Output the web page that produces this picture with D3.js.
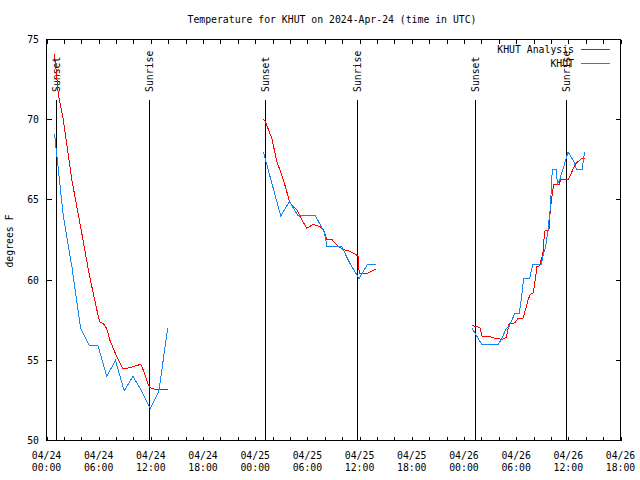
<!DOCTYPE html>
<html><head><meta charset="utf-8">
<script src="https://cdn.jsdelivr.net/npm/d3@7"></script>
<style>
body{margin:0;background:#fff;}
text{font-family:"DejaVu Sans Mono","Liberation Mono",monospace;font-size:9.8px;fill:#000;}
</style></head>
<body><svg id="c" width="640" height="480"></svg>
<script>
// hours since 2024-04-24 00:00 UTC
const analysisHours1 = [0.93,1.36,1.93,2.93,3.93,4.93,5.93,6.14,6.52,6.91,7.29,7.86,8.75,9.21,9.97,10.82,11.05,11.69,11.88,12.46,13.99];
const analysisTemps1 = [74.1,71.6,70.0,66.2,63.3,60.3,57.8,57.4,57.3,57.0,56.25,55.5,54.5,54.5,54.6,54.75,54.5,53.5,53.3,53.2,53.2];
const analysisHours2 = [24.94,25.14,25.9,26.48,27.24,28.0,28.78,29.15,29.92,30.68,31.45,31.91,32.22,32.79,33.55,34.12,34.89,35.66,35.85,35.96,36.81,37.96];
const analysisTemps2 = [70.04,69.9,68.86,67.4,66.25,64.8,64.4,63.96,63.23,63.48,63.33,63.08,62.54,62.54,62.1,61.9,61.8,61.56,61.46,60.4,60.4,60.7];
const analysisHours3 = [48.93,49.24,49.82,50.08,50.96,51.23,51.73,52.42,52.88,53.18,53.83,54.21,54.79,55.06,55.36,55.64,55.93,56.13,56.39,56.7,57.08,57.28,57.77,57.93,58.16,58.31,58.92,59.11,59.77,60.03,60.53,60.92,61.49,61.87];
const analysisTemps3 = [57.19,57.13,57.04,56.5,56.5,56.42,56.36,56.31,56.42,57.29,57.33,57.6,57.64,58.13,58.75,59.13,59.17,59.75,60.83,60.9,61.67,63.06,63.13,64.4,65.4,65.94,65.94,66.25,66.3,66.3,66.9,67.3,67.56,67.6];

const obsHours1 = [0.93,1.93,2.93,3.93,4.93,5.93,6.93,7.93,8.93,9.93,10.93,11.93,12.93,13.93];
const obsTemps1 = [69.1,64.0,60.8,57.0,55.9,55.9,54.0,55.0,53.1,54.0,53.1,52.0,53.1,57.0];
const obsHours2 = [24.93,25.93,26.93,27.93,28.93,29.93,30.93,31.93,32.25,33.93,34.93,35.93,36.93,37.93];
const obsTemps2 = [68.0,66.0,64.0,64.9,64.0,64.0,64.0,63.0,62.1,62.1,61.0,60.1,61.0,61.0];
const obsHours3 = [48.93,50.03,51.93,52.3,52.88,53.18,53.83,54.33,54.52,54.87,55.55,55.93,56.9,57.08,57.4,57.66,57.93,58.16,58.62,58.74,59.0,59.77,59.96,60.72,60.92,61.6,61.76,61.87];
const obsTemps3 = [57.0,56.0,56.0,56.3,57.0,57.1,57.9,57.9,58.5,60.1,60.1,61.0,61.0,61.5,62.1,63.1,64.5,66.9,66.9,66.0,66.25,67.6,68.0,67.3,66.9,66.9,67.6,68.0];

const sunHours = [1.15,11.84,25.17,35.75,49.31,59.77];
const sunLabels = ["Sunset","Sunrise","Sunset","Sunrise","Sunset","Sunrise"];
const yTicks = [50,55,60,65,70,75];
const seriesNames = ["KHUT Analysis","KHUT"];
const seriesColors = ["#ff0000","#1584f4"];
const titleText = "Temperature for KHUT on 2024-Apr-24 (time in UTC)";
const yLabel = "degrees F";

const base = Date.UTC(2024,3,24);
const hr = h => new Date(base + h*3600e3);

const L=46.5, R=620.5, T=39.5, B=440.5;
const x = d3.scaleUtc().domain([hr(0), hr(66)]).range([L,R]);
const y = d3.scaleLinear().domain([50,75]).range([B,T]);

const svg = d3.select("#c");
svg.append("rect").attr("width",640).attr("height",480).attr("fill","#fff");

// ticks
const minor = d3.range(0,67,2).map(hr);
const g = svg.append("g").attr("shape-rendering","crispEdges").attr("stroke","#000");
g.selectAll(".tb").data(minor).join("line").attr("x1",d=>Math.round(x(d))+0.5).attr("x2",d=>Math.round(x(d))+0.5).attr("y1",B).attr("y2",B-4);
g.selectAll(".tt").data(minor).join("line").attr("x1",d=>Math.round(x(d))+0.5).attr("x2",d=>Math.round(x(d))+0.5).attr("y1",T).attr("y2",T+4);
g.selectAll(".yl").data(yTicks).join("line").attr("x1",L).attr("x2",L+5).attr("y1",d=>Math.round(y(d)-0.5)+0.5).attr("y2",d=>Math.round(y(d)-0.5)+0.5);
g.selectAll(".yr").data(yTicks).join("line").attr("x1",R).attr("x2",R-5).attr("y1",d=>Math.round(y(d)-0.5)+0.5).attr("y2",d=>Math.round(y(d)-0.5)+0.5);

// x labels
const major = d3.range(0,67,6).map(hr);
const fmtD = d3.utcFormat("%m/%d"), fmtT = d3.utcFormat("%H:%M");
const xl = svg.selectAll(".xl").data(major).join("text").attr("text-anchor","middle");
xl.append("tspan").attr("x",d=>x(d)).attr("y",458.5).text(fmtD);
xl.append("tspan").attr("x",d=>x(d)).attr("y",470.5).text(fmtT);

// y labels
svg.selectAll(".ylab").data(yTicks).join("text").attr("text-anchor","end")
  .attr("x",39).attr("y",d=>y(d)+3.5).text(d=>d);

svg.append("text").attr("transform","translate(13,241) rotate(-90)").attr("text-anchor","middle").text(yLabel);
svg.append("text").attr("x",332).attr("y",23).attr("text-anchor","middle").text(titleText);

// sun lines
svg.selectAll(".sun").data(sunHours).join("line").attr("shape-rendering","crispEdges")
  .attr("x1",d=>Math.floor(x(hr(d)))+0.5).attr("x2",d=>Math.floor(x(hr(d)))+0.5)
  .attr("y1",100).attr("y2",B).attr("stroke","#000");
svg.selectAll(".sunt").data(sunHours).join("text")
  .attr("transform",d=>`translate(${Math.floor(x(hr(d)))+0.5},92) rotate(-90)`)
  .attr("dy","0.35em").text((d,i)=>sunLabels[i]);

// series
const line = d3.line().x(d=>x(hr(d[0]))).y(d=>y(d[1]));
const zip = (a,b)=>a.map((h,i)=>[h,b[i]]);
const red = [zip(analysisHours1,analysisTemps1),zip(analysisHours2,analysisTemps2),zip(analysisHours3,analysisTemps3)];
const blue = [zip(obsHours1,obsTemps1),zip(obsHours2,obsTemps2),zip(obsHours3,obsTemps3)];
svg.selectAll(".r").data(red).join("path").attr("d",line).attr("fill","none").attr("stroke",seriesColors[0]).attr("stroke-width",1).attr("shape-rendering","crispEdges");
svg.selectAll(".b").data(blue).join("path").attr("d",line).attr("fill","none").attr("stroke",seriesColors[1]).attr("stroke-width",1).attr("shape-rendering","crispEdges");

// legend
seriesNames.forEach((n,i)=>{
  const yy = 49 + i*14;
  svg.append("text").attr("x",574).attr("y",yy+3.5).attr("text-anchor","end").text(n);
  svg.append("line").attr("x1",581).attr("x2",610).attr("y1",yy+0.5).attr("y2",yy+0.5).attr("stroke",seriesColors[i]).attr("shape-rendering","crispEdges");
});

// border
svg.append("rect").attr("x",L).attr("y",T).attr("width",R-L).attr("height",B-T).attr("fill","none").attr("stroke","#000").attr("shape-rendering","crispEdges");
</script></body></html>
